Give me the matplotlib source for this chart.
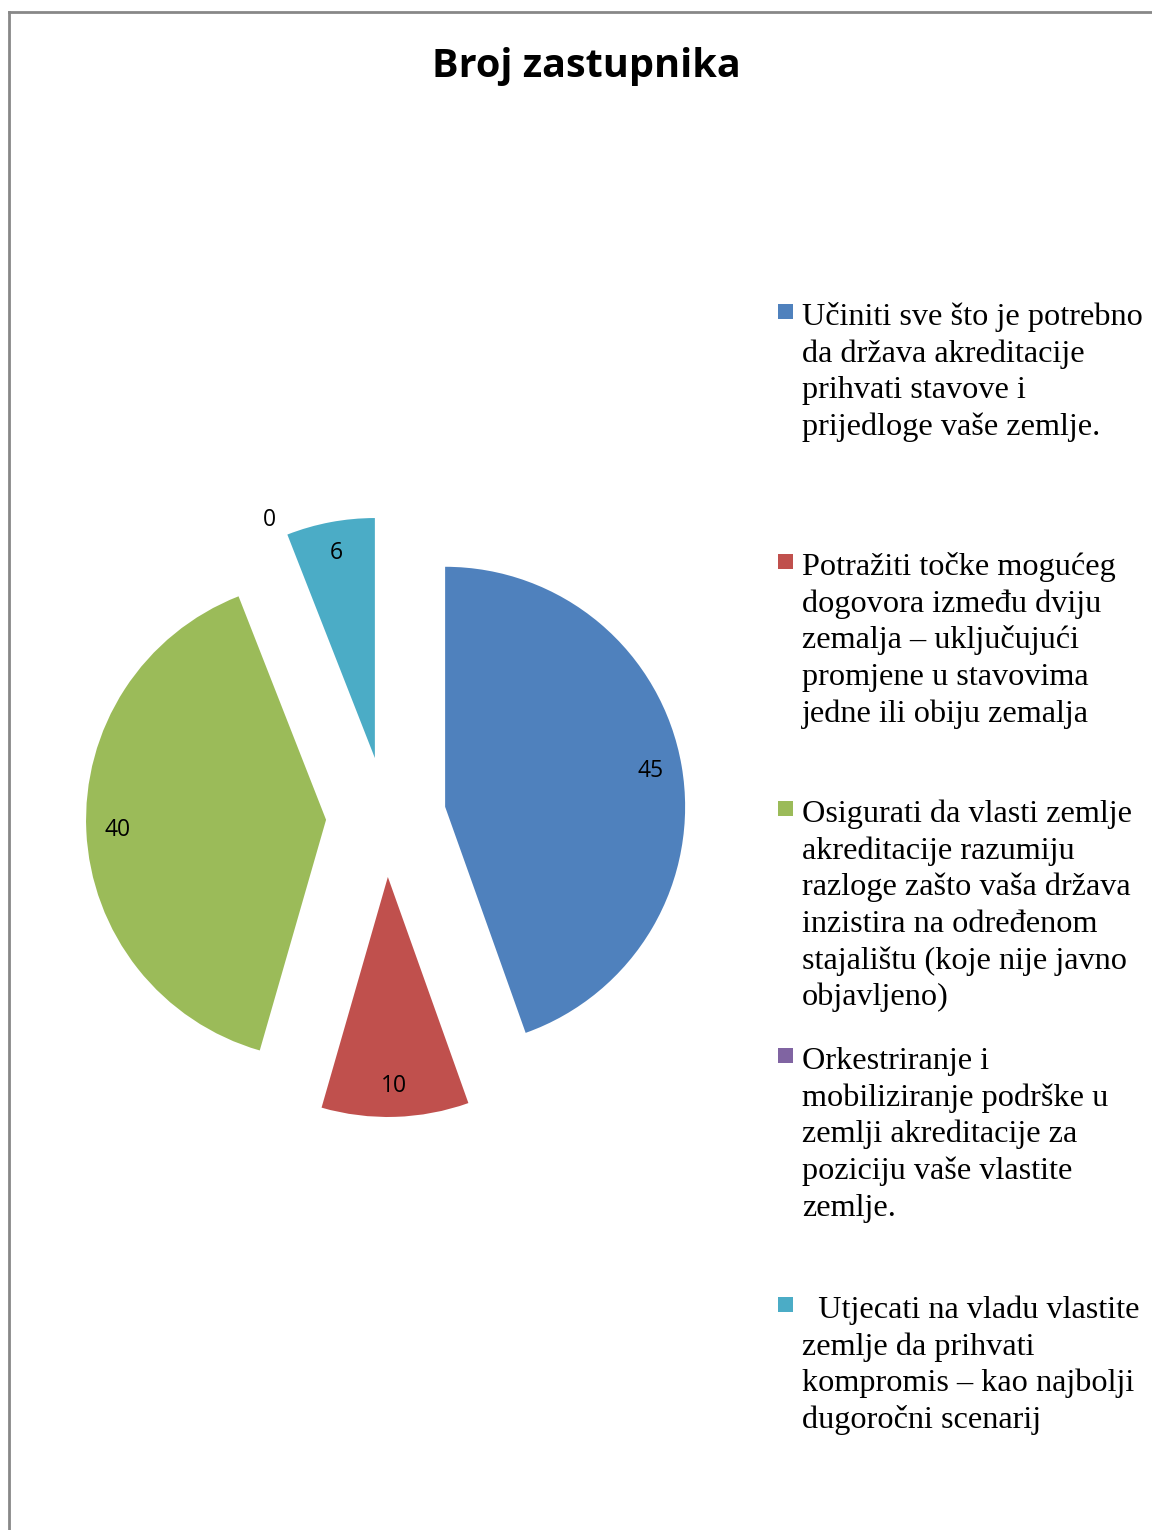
import numpy as np
import matplotlib.pyplot as plt
from matplotlib.patches import Rectangle
from matplotlib.lines import Line2D

title = "Broj zastupnika"
values = [45, 10, 40, 0, 6]
labels = [
    "Učiniti sve što je potrebno\nda država akreditacije\nprihvati stavove i\nprijedloge vaše zemlje.",
    "Potražiti točke mogućeg\ndogovora između dviju\nzemalja – uključujući\npromjene u stavovima\njedne ili obiju zemalja",
    "Osigurati da vlasti zemlje\nakreditacije razumiju\nrazloge zašto vaša država\ninzistira na određenom\nstajalištu (koje nije javno\nobjavljeno)",
    "Orkestriranje i\nmobiliziranje podrške u\nzemlji akreditacije za\npoziciju vaše vlastite\nzemlje.",
    "  Utjecati na vladu vlastite\nzemlje da prihvati\nkompromis – kao najbolji\ndugoročni scenarij",
]
colors = ["#4F81BD", "#C0504D", "#9BBB59", "#8064A2", "#4BACC6"]

W, H = 1152, 1530
fig = plt.figure(figsize=(W / 100, H / 100), dpi=100)

# grey outer frame (chart area border)
fig.add_artist(Line2D([9 / W, 9 / W], [0, 1 - 12 / H], color="#888888", lw=2))
fig.add_artist(Line2D([9 / W, 1], [1 - 12 / H, 1 - 12 / H], color="#888888", lw=2))

fig.text(586 / W, 1 - 77 / H, title, ha="center", va="baseline",
         fontsize=28.5, fontweight="bold", family="Open Sans")

# pie: centre (386, 817) px, radius 240 px
half = 360
ax = fig.add_axes([(386 - half) / W, (H - 817 - half) / H, 2 * half / W, 2 * half / H])
wedges, _ = ax.pie(values, colors=colors, startangle=90, counterclock=False,
                   explode=[0.25] * len(values), radius=1,
                   wedgeprops=dict(linewidth=0))
ax.set_xlim(-half / 240, half / 240)
ax.set_ylim(-half / 240, half / 240)
ax.set_aspect("equal")
ax.axis("off")

for w, v in zip(wedges, values):
    ang = np.deg2rad((w.theta1 + w.theta2) / 2)
    d = 0.87 if v > 0 else 1.08
    cx, cy = w.center
    ax.text(cx + d * np.cos(ang), cy + d * np.sin(ang), str(v),
            ha="center", va="center", fontsize=16.5, family="Open Sans")

# legend drawn by hand (Excel spaces the entries unevenly)
first_baselines = [325, 575, 822, 1069, 1318]
step = 36.7
for lab, c, yb in zip(labels, colors, first_baselines):
    fig.add_artist(Rectangle((778 / W, 1 - (yb - 6) / H), 15 / W, 15 / H,
                             transform=fig.transFigure, color=c, lw=0))
    for i, line in enumerate(lab.split("\n")):
        fig.text(802 / W, 1 - (yb + i * step) / H, line, ha="left", va="baseline",
                 fontsize=23.2, family="Liberation Serif")

fig.savefig("out.png", dpi=100)
